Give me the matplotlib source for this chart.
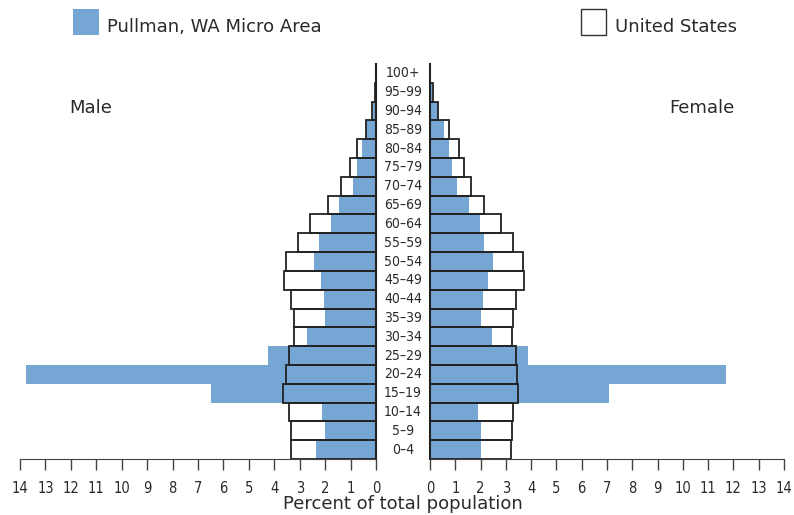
import matplotlib
matplotlib.use("Agg")
import matplotlib.pyplot as plt
import matplotlib.transforms as mtransforms
from matplotlib.patches import Rectangle
from matplotlib import font_manager

plt.rcParams['font.family'] = ['DejaVu Sans']

ages = ["0–4", "5–9", "10–14", "15–19", "20–24", "25–29", "30–34", "35–39",
        "40–44", "45–49", "50–54", "55–59", "60–64", "65–69", "70–74",
        "75–79", "80–84", "85–89", "90–94", "95–99", "100+"]

pullman_male = [2.36, 2.0, 2.12, 6.49, 13.76, 4.25, 2.71, 2.0, 2.04, 2.16, 2.44,
                2.24, 1.77, 1.45, 0.9, 0.75, 0.55, 0.39, 0.13, 0.04, 0.0]
us_male = [3.33, 3.35, 3.41, 3.64, 3.55, 3.43, 3.22, 3.24, 3.35, 3.62, 3.53,
           3.07, 2.6, 1.87, 1.36, 1.02, 0.73, 0.39, 0.14, 0.03, 0.0]
pullman_female = [2.03, 2.03, 1.91, 7.08, 11.69, 3.86, 2.47, 2.03, 2.11, 2.31, 2.5,
                  2.15, 1.99, 1.55, 1.07, 0.87, 0.76, 0.56, 0.33, 0.08, 0.0]
us_female = [3.19, 3.23, 3.27, 3.49, 3.43, 3.39, 3.23, 3.29, 3.41, 3.73, 3.69,
             3.29, 2.82, 2.13, 1.63, 1.33, 1.13, 0.77, 0.33, 0.12, 0.01]

ticks = list(range(0, 15))
blue = "#75a6d4"
edge = "#222222"
txt = "#2a2a2a"

cond = font_manager.FontProperties(family='DejaVu Sans', stretch='condensed', size=10.5)
cond_age = font_manager.FontProperties(family='DejaVu Sans', stretch='condensed', size=10)

fig = plt.figure(figsize=(7.94, 5.15), dpi=100)
bottom = (515 - 459) / 515
height = (459 - 64) / 515
axL = fig.add_axes([20 / 794, bottom, (376 - 20) / 794, height])
axR = fig.add_axes([430 / 794, bottom, (784 - 430) / 794, height])

y = list(range(len(ages)))
axL.barh(y, pullman_male, height=1.0, color=blue, edgecolor='none', zorder=1)
axL.barh(y, us_male, height=1.0, facecolor='none', edgecolor=edge, linewidth=1.3, zorder=2)
axR.barh(y, pullman_female, height=1.0, color=blue, edgecolor='none', zorder=1)
axR.barh(y, us_female, height=1.0, facecolor='none', edgecolor=edge, linewidth=1.3, zorder=2)

axL.set_xlim(14, 0)
axR.set_xlim(0, 14)
for ax in (axL, axR):
    ax.set_ylim(-0.5, len(ages) - 0.5)
    ax.set_xticks(ticks)
    ax.set_xticklabels([str(t) for t in ticks], fontproperties=cond, color=txt)
    ax.tick_params(axis='x', direction='out', length=8, width=1, color='#444444', pad=8)
    ax.set_yticks([])
    ax.spines['top'].set_visible(False)
    ax.spines['bottom'].set_color('#444444')
axL.spines['left'].set_visible(False)
axL.spines['right'].set_linewidth(1.5)
axL.spines['right'].set_color('#222222')
axR.spines['right'].set_visible(False)
axR.spines['left'].set_linewidth(1.5)
axR.spines['left'].set_color('#222222')

trans = mtransforms.blended_transform_factory(fig.transFigure, axR.transData)
for i, lab in enumerate(ages):
    fig.text(403 / 794, i, lab, transform=trans, ha='center', va='center',
             fontproperties=cond_age, color=txt)

fig.text(91 / 794, 1 - 108 / 515, "Male", ha='center', va='center', fontsize=13, color=txt)
fig.text(702 / 794, 1 - 108 / 515, "Female", ha='center', va='center', fontsize=13, color=txt)
fig.text(403 / 794, 1 - 504 / 515, "Percent of total population", ha='center', va='center',
         fontsize=13, color=txt)

# legend
fig.patches.append(Rectangle((73 / 794, 1 - 35 / 515), 26 / 794, 26 / 515,
                             transform=fig.transFigure, facecolor=blue, edgecolor='none'))
fig.text(107 / 794, 1 - 27 / 515, "Pullman, WA Micro Area", ha='left', va='center',
         fontsize=13, color=txt)
fig.patches.append(Rectangle((581 / 794, 1 - 35 / 515), 25 / 794, 26 / 515,
                             transform=fig.transFigure, facecolor='white', edgecolor='#333333',
                             linewidth=1))
fig.text(615 / 794, 1 - 27 / 515, "United States", ha='left', va='center',
         fontsize=13, color=txt)

fig.savefig("out.png", dpi=100)
